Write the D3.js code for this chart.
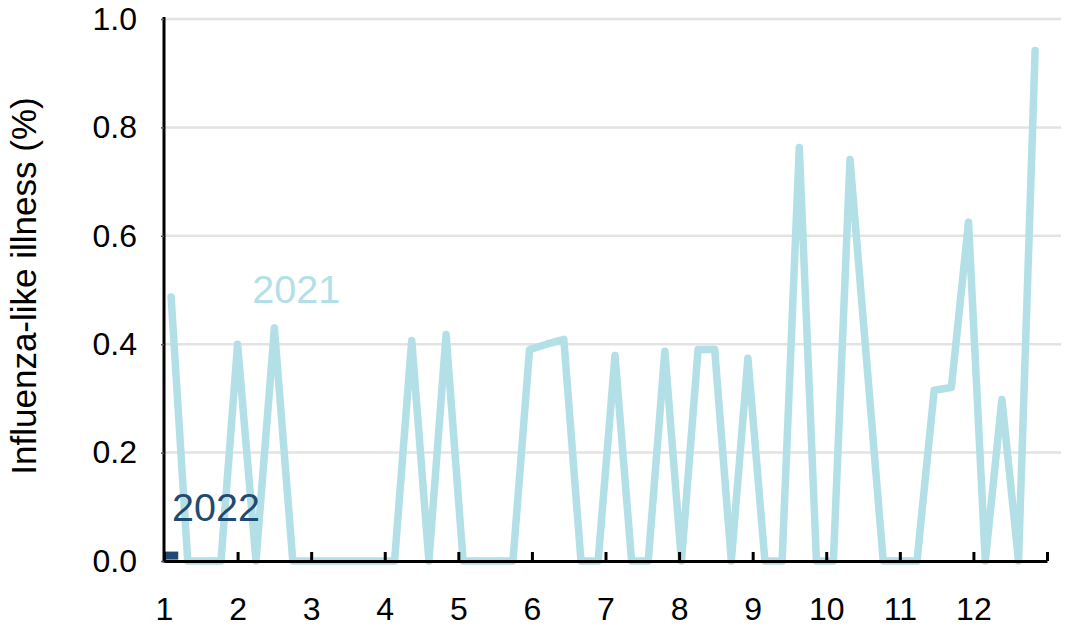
<!DOCTYPE html>
<html>
<head>
<meta charset="utf-8">
<script src="https://cdn.jsdelivr.net/npm/d3@7"></script>
<style>
  body { margin: 0; background: #fff; }
  text { font-family: "Liberation Sans", Arial, sans-serif; }
</style>
</head>
<body>
<svg id="chart" width="1071" height="628"></svg>
<script>
// weekly influenza-like illness, 2021 (week start dates)
const weeks2021 = [
  "2021-01-04","2021-01-11","2021-01-18","2021-01-25",
  "2021-02-01","2021-02-08","2021-02-15","2021-02-22",
  "2021-03-01","2021-03-08","2021-03-15","2021-03-22","2021-03-29",
  "2021-04-05","2021-04-12","2021-04-19","2021-04-26",
  "2021-05-03","2021-05-10","2021-05-17","2021-05-24","2021-05-31",
  "2021-06-07","2021-06-14","2021-06-21","2021-06-28",
  "2021-07-05","2021-07-12","2021-07-19","2021-07-26",
  "2021-08-02","2021-08-09","2021-08-16","2021-08-23","2021-08-30",
  "2021-09-06","2021-09-13","2021-09-20","2021-09-27",
  "2021-10-04","2021-10-11","2021-10-18","2021-10-25",
  "2021-11-01","2021-11-08","2021-11-15","2021-11-22","2021-11-29",
  "2021-12-06","2021-12-13","2021-12-20","2021-12-27"
];
const ili2021 = [
  0.487, 0, 0, 0,
  0.40, 0, 0.43, 0,
  0, 0, 0, 0, 0,
  0, 0.407, 0, 0.418,
  0, 0, 0, 0, 0.39,
  0.40, 0.409, 0, 0,
  0.379, 0, 0, 0.387,
  0, 0.39, 0.39, 0, 0.374,
  0, 0, 0.763, 0,
  0, 0.741, 0.37, 0,
  0, 0, 0.315, 0.32, 0.625,
  0, 0.298, 0, 0.942
];
const weeks2022 = ["2022-01-01", "2022-01-07"];
const ili2022 = [0.01, 0.01];

const monthTicks = d3.range(1, 14);
const yTicks = [0, 0.2, 0.4, 0.6, 0.8, 1.0];

const parse = d3.timeParse("%Y-%m-%d");
// position of a date on the month axis: month + fraction of that month
const monthPos = s => {
  const d = parse(s);
  const days = new Date(d.getFullYear(), d.getMonth() + 1, 0).getDate();
  return d.getMonth() + 1 + (d.getDate() - 1) / days;
};

const svg = d3.select("#chart"),
    margin = {top: 19, right: 24, bottom: 67, left: 164},
    width = 1047 - margin.left,
    height = 561 - margin.top;

const g = svg.append("g").attr("transform", "translate(" + margin.left + "," + margin.top + ")");

const x = d3.scaleLinear().domain([1, 13]).range([0, width]);
const y = d3.scaleLinear().domain([0, 1]).range([height, 0]);

// grid
g.append("g")
  .selectAll("line")
  .data(yTicks.slice(1))
  .join("line")
  .attr("x1", 0).attr("x2", width + 14)
  .attr("y1", d => y(d)).attr("y2", d => y(d))
  .attr("stroke", "#e3e3e3")
  .attr("stroke-width", 2.5);

const line = d3.line()
  .x(d => x(d.m))
  .y(d => y(d.v));

const d2021 = weeks2021.map((w, i) => ({m: monthPos(w), v: ili2021[i]}));
const d2022 = weeks2022.map((w, i) => ({m: monthPos(w), v: ili2022[i]}));

g.append("path")
  .datum(d2021)
  .attr("fill", "none")
  .attr("stroke", "#b2e0e6")
  .attr("stroke-width", 7.5)
  .attr("stroke-linejoin", "round")
  .attr("stroke-linecap", "round")
  .attr("d", line);

g.append("path")
  .datum(d2022)
  .attr("fill", "none")
  .attr("stroke", "#1f4a72")
  .attr("stroke-width", 8)
  .attr("stroke-linecap", "butt")
  .attr("d", line);

// x axis
const xAxis = g.append("g")
  .attr("transform", "translate(0," + height + ")")
  .call(d3.axisBottom(x)
    .tickValues(monthTicks)
    .tickSizeInner(-9)
    .tickSizeOuter(0)
    .tickPadding(0)
    .tickFormat(d => d <= 12 ? d : ""));
xAxis.select(".domain").attr("stroke", "#000").attr("stroke-width", 3);
xAxis.selectAll(".tick line").attr("stroke", "#000").attr("stroke-width", 3);
xAxis.selectAll(".tick text")
  .attr("y", 59)
  .attr("dy", 0)
  .attr("fill", "#000")
  .style("font-size", "32px");

// y axis
const yAxis = g.append("g")
  .call(d3.axisLeft(y)
    .tickValues(yTicks)
    .tickSizeInner(3)
    .tickSizeOuter(0)
    .tickPadding(24)
    .tickFormat(d3.format(".1f")));
yAxis.select(".domain").attr("stroke", "#000").attr("stroke-width", 3)
  .attr("d", "M0," + (height + 1.5) + "V-2");
yAxis.selectAll(".tick line").attr("stroke", "#555").attr("stroke-width", 1.5);
yAxis.selectAll(".tick text")
  .attr("fill", "#000")
  .style("font-size", "32px");

// axis title
svg.append("text")
  .attr("transform", "translate(36,286) rotate(-90)")
  .attr("text-anchor", "middle")
  .attr("fill", "#000")
  .style("font-size", "35px")
  .text("Influenza-like illness (%)");

// series labels
g.append("text")
  .attr("x", x(2.2)).attr("y", y(0.476))
  .attr("fill", "#b2e0e6")
  .style("font-size", "39.5px")
  .text("2021");

g.append("text")
  .attr("x", x(1.11)).attr("y", y(0.074))
  .attr("fill", "#1f4a72")
  .style("font-size", "39.5px")
  .text("2022");
</script>
</body>
</html>
